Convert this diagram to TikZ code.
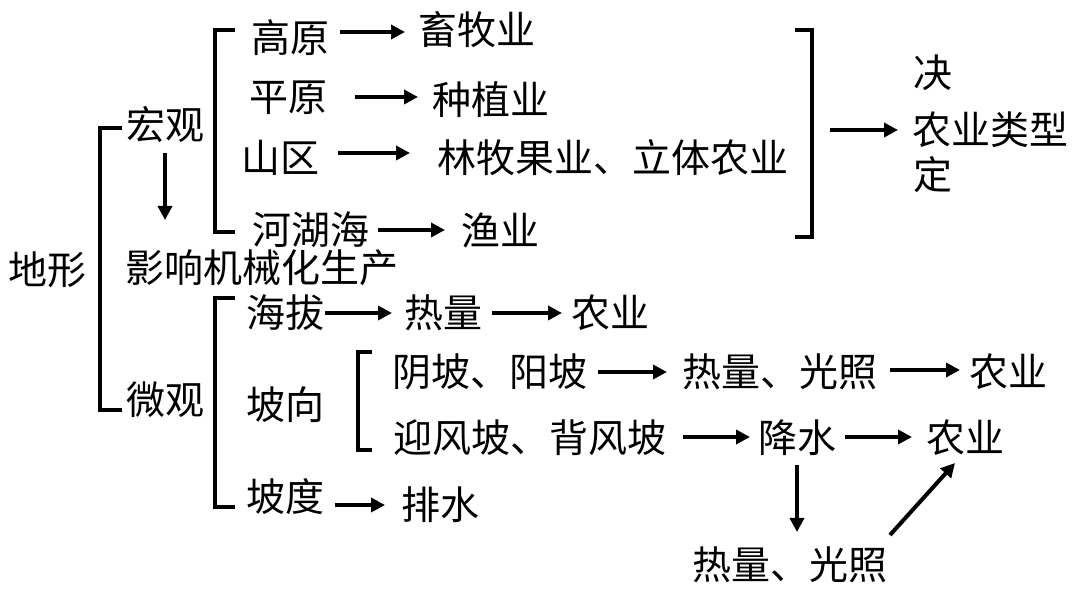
\documentclass[tikz,border=0pt]{standalone}
\usepackage{fontspec}
\setmainfont{Noto Sans CJK SC}
\usetikzlibrary{arrows.meta}
\begin{document}
\begin{tikzpicture}[x=1pt,y=-1pt,
  t/.style={font=\fontsize{39}{41}\selectfont,inner sep=0pt},
  ar/.style={line width=4pt,-{Triangle[length=14pt,width=14pt]}},
  br/.style={line width=4pt}]
\useasboundingbox (0,0) rectangle (1080,593);
\node[t] (dx) at (48,270) {地形};
\draw[br] (122,128)--(100,128)--(100,410)--(122,410);
\node[t] (hg) at (165,125) {宏观};
\node[t] (wg) at (165,400) {微观};
\node[t] (yx) at (262,268) {影响机械化生产};
\draw[ar] (hg.south)++(0,10) coordinate (a1) -- (165,220);
\draw[br] (235,30)--(215,30)--(215,232)--(235,232);
\node[t] (gy) at (290,38) {高原};
\node[t] (xm) at (477,30) {畜牧业};
\draw[ar] (340,32)--(405,32);
\node[t] (py) at (288,98) {平原};
\node[t] (zz) at (491,100) {种植业};
\draw[ar] (355,97)--(418,97);
\node[t] (sq) at (280,158) {山区};
\node[t] (lm) at (613,158) {林牧果业、立体农业};
\draw[ar] (338,153)--(410,153);
\node[t] (hh) at (311,230) {河湖海};
\node[t] (yy) at (500,230) {渔业};
\draw[ar] (378,230)--(445,230);
\draw[br] (795,30)--(812,30)--(812,237)--(795,237);
\draw[ar] (830,130)--(898,130);
\node[t] (ju) at (933,73) {决};
\node[t] (nl) at (990,130) {农业类型};
\node[t] (di) at (933,175) {定};
\draw[br] (235,298)--(215,298)--(215,507)--(235,507);
\node[t] (hb) at (285,313) {海拔};
\node[t] (rl1) at (443,313) {热量};
\node[t] (ny1) at (610,313) {农业};
\draw[ar] (325,313)--(392,313);
\draw[ar] (492,313)--(562,313);
\node[t] (px) at (285,405) {坡向};
\draw[br] (372,352)--(358,352)--(358,450)--(372,450);
\node[t] (yp) at (490,372) {阴坡、阳坡};
\node[t] (rg1) at (780,372) {热量、光照};
\node[t] (ny2) at (1008,372) {农业};
\draw[ar] (598,372)--(667,372);
\draw[ar] (890,370)--(960,370);
\node[t] (yf) at (530,438) {迎风坡、背风坡};
\node[t] (js) at (797,438) {降水};
\node[t] (ny3) at (965,438) {农业};
\draw[ar] (683,437)--(750,437);
\draw[ar] (845,437)--(912,437);
\node[t] (rg2) at (790,565) {热量、光照};
\draw[ar] (797,465)--(797,532);
\draw[ar] (890,535)--(955,463);
\node[t] (pd) at (285,497) {坡度};
\node[t] (ps) at (440,505) {排水};
\draw[ar] (335,505)--(385,505);
\end{tikzpicture}
\end{document}
